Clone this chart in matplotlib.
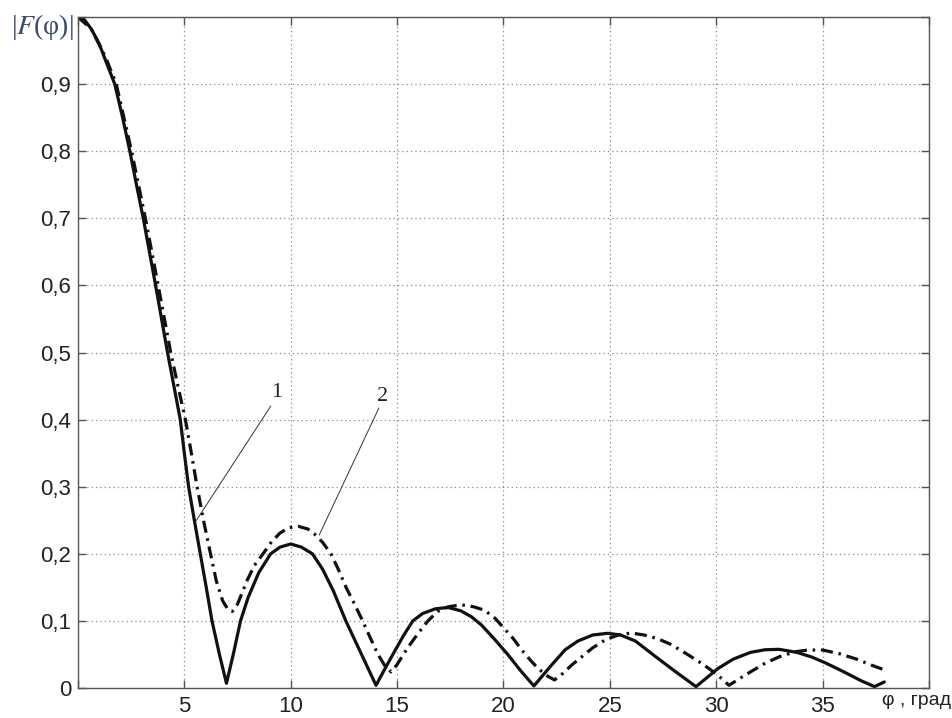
import matplotlib
matplotlib.use("Agg")
import matplotlib.pyplot as plt

# curve 1 (solid)
phi_1 = [0, 0.3, 0.63, 1.0, 1.3, 1.73, 2.1, 2.44, 2.75, 3.07, 3.36, 3.65, 3.93,
         4.21, 4.51, 4.81, 5.0, 5.20, 5.47, 5.75, 6.03, 6.3, 6.65, 6.98,
         7.3, 7.64, 8.0, 8.5, 9.06, 9.5, 10.0, 10.5, 11.02, 11.5, 12.0, 12.59,
         13.3, 14.01,
         14.4, 14.8, 15.3, 15.74, 16.2, 16.8, 17.39, 18.0, 18.5, 18.96, 19.6,
         20.2, 20.8, 21.43,
         22.2, 22.9, 23.5, 24.2, 24.9, 25.5, 26.2, 27.14, 28.1, 29.05,
         30.08, 30.8, 31.6, 32.3, 32.96, 33.8, 34.5, 35.16, 36.0, 36.8, 37.44,
         37.9]
f_1 = [1.0, 0.996, 0.982, 0.96, 0.935, 0.9, 0.85, 0.8, 0.75, 0.7, 0.65, 0.6, 0.55,
       0.5, 0.45, 0.4, 0.35, 0.3, 0.25, 0.2, 0.15, 0.1, 0.05, 0.007,
       0.05, 0.1, 0.135, 0.172, 0.2, 0.21, 0.2146, 0.21, 0.2, 0.177, 0.145, 0.1,
       0.052, 0.004,
       0.027, 0.05, 0.078, 0.1, 0.111, 0.118, 0.12, 0.115, 0.106, 0.094, 0.072,
       0.05, 0.026, 0.003,
       0.032, 0.057, 0.07, 0.079, 0.0815, 0.079, 0.07, 0.047, 0.024, 0.002,
       0.029, 0.043, 0.053, 0.057, 0.0576, 0.053, 0.046, 0.037, 0.024, 0.011,
       0.002, 0.009]

# curve 2 (dash-dot)
phi_2 = [0, 0.63, 1.3, 1.8, 2.52, 3.17, 3.77, 4.36, 4.7, 5.05, 5.33, 5.60, 5.9,
         6.23, 6.5, 6.8, 7.05, 7.25, 7.5, 7.96, 8.3, 8.7, 9.1, 9.5, 9.9, 10.35,
         10.8, 11.1, 11.5, 11.89, 12.25, 12.6, 13.0, 13.38, 13.75, 14.1, 14.45,
         14.72, 15.0, 15.5, 16.0, 16.45, 16.9, 17.4, 18.02, 18.6, 19.1, 19.6,
         20.0, 20.45, 20.85, 21.25, 21.6, 22.0, 22.4, 22.8, 23.2, 23.7, 24.2,
         24.8, 25.4, 26.0, 26.6, 27.2, 27.8, 28.5, 29.2, 29.7, 30.08, 30.6,
         31.4, 32.3, 33.0, 33.7, 34.3, 35.0, 35.8, 36.6, 37.3, 37.9]
f_2 = [1.0, 0.982, 0.94, 0.9, 0.8, 0.7, 0.6, 0.5, 0.45, 0.4, 0.35, 0.3, 0.25,
       0.2, 0.16, 0.13, 0.117, 0.114, 0.125, 0.161, 0.183, 0.2, 0.218, 0.231,
       0.239, 0.241, 0.237, 0.23, 0.217, 0.2, 0.176, 0.15, 0.125, 0.1, 0.074,
       0.05, 0.032, 0.024, 0.035, 0.06, 0.082, 0.1, 0.114, 0.121, 0.124, 0.121,
       0.116, 0.104, 0.09, 0.074, 0.057, 0.042, 0.03, 0.019, 0.012, 0.022,
       0.034, 0.047, 0.06, 0.072, 0.079, 0.082, 0.079, 0.074, 0.066, 0.053,
       0.039, 0.028, 0.019, 0.004, 0.02, 0.037, 0.047, 0.054, 0.0565, 0.0566,
       0.051, 0.043, 0.034, 0.027]

x_ticks = [0, 5, 10, 15, 20, 25, 30, 35, 40]
x_labels = ["", "5", "10", "15", "20", "25", "30", "35", ""]
y_ticks = [0, 0.1, 0.2, 0.3, 0.4, 0.5, 0.6, 0.7, 0.8, 0.9, 1.0]
y_labels = ["0", "0,1", "0,2", "0,3", "0,4", "0,5", "0,6", "0,7", "0,8", "0,9", ""]

plt.rcParams["font.family"] = ["Liberation Sans", "DejaVu Sans"]
plt.rcParams["mathtext.fontset"] = "stix"

fig = plt.figure(figsize=(9.53, 7.18), dpi=100)
ax = fig.add_axes([0.0818, 0.0418, 0.893, 0.9345])

ax.plot(phi_1, f_1, color="#111111", linewidth=2.3,
        solid_joinstyle="round", solid_capstyle="round")
ax.plot(phi_2, f_2, color="#111111", linewidth=2.3,
        linestyle=(0, (3.8, 1.8, 0.8, 1.8)))

ax.set_xlim(0, 40)
ax.set_ylim(0, 1)
ax.set_xticks(x_ticks)
ax.set_xticklabels(x_labels)
ax.set_yticks(y_ticks)
ax.set_yticklabels(y_labels)
ax.tick_params(direction="in", length=6, width=1, colors="#555555",
               labelcolor="#222222", labelsize=16, top=True, right=True)
ax.tick_params(axis="x", pad=6)
ax.tick_params(axis="y", pad=5)
for spine in ax.spines.values():
    spine.set_color("#555555")
    spine.set_linewidth(1.0)
ax.grid(True, linestyle=(0, (1, 2.5)), color="#888888", linewidth=0.9)

# leader lines with numbers
ax.plot([9.06, 5.57], [0.420, 0.250], color="#333333", linewidth=0.7)
ax.plot([14.14, 11.34], [0.417, 0.228], color="#333333", linewidth=0.7)
ax.text(9.34, 0.44, "1", family="Liberation Serif", fontsize=16,
        ha="center", va="center", color="#222222")
ax.text(14.32, 0.434, "2", family="Liberation Serif", fontsize=16,
        ha="center", va="center", color="#222222")

fig.text(0.044, 0.962, "|$F$(φ)|", family="Liberation Serif", fontsize=20,
         ha="center", va="center", color="#3b4a6b")
fig.text(0.998, 0.024, "φ , град", fontsize=14, ha="right", va="center",
         color="#222222")

fig.savefig("out.png", dpi=100)
